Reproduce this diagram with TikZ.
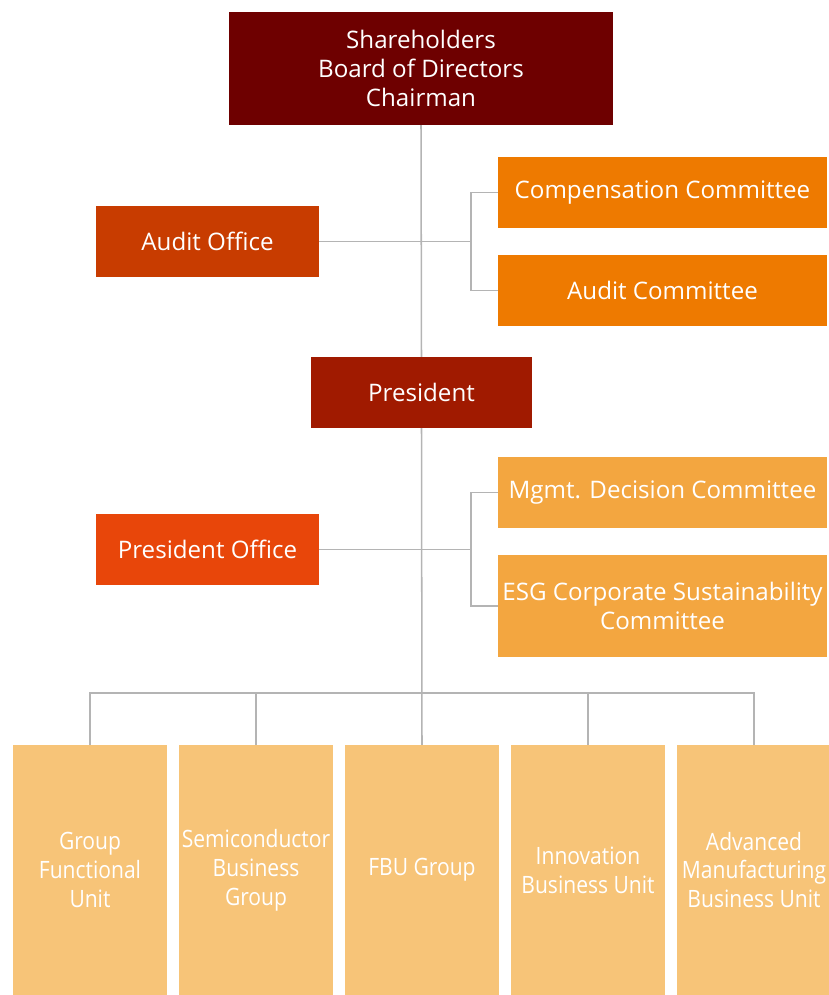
\documentclass[tikz,border=0pt]{standalone}
\usepackage{fontspec}
\setmainfont{Open Sans}
\newfontfamily\condfont[FakeStretch=0.88]{Open Sans}
\begin{document}
\begin{tikzpicture}[x=0.03cm, y=-0.03cm,
    box/.style={rectangle, inner sep=0pt, text=white, align=center,
        font=\fontsize{20.6}{24.6}\selectfont, minimum height=2.13cm},
    sidebox/.style={box, minimum width=6.69cm},
    combox/.style={box, minimum width=9.87cm},
    unitbox/.style={box, minimum width=4.62cm, minimum height=7.5cm,
        fill=unitfill, font=\condfont\fontsize{20.4}{24.6}\selectfont},
    link/.style={draw=linegray, line width=1.3pt}]
    % Define colors
    \definecolor{boardfill}{RGB}{110,0,0}
    \definecolor{presfill}{RGB}{160,26,0}
    \definecolor{auditfill}{RGB}{200,60,0}
    \definecolor{pofficefill}{RGB}{232,70,10}
    \definecolor{comfill}{RGB}{238,122,0}
    \definecolor{mgmtfill}{RGB}{243,166,64}
    \definecolor{unitfill}{RGB}{247,196,120}
    \definecolor{linegray}{RGB}{180,180,180}

    \useasboundingbox (0,0) rectangle (828,995);

    % Draw the boxes
    \node[box, fill=boardfill, minimum width=11.52cm, minimum height=3.39cm] (board) at (421,68.5)
        {Shareholders\\Board of Directors\\Chairman};
    \node[sidebox, fill=auditfill] (auditoff) at (207.5,241.5) {Audit Office};
    \node[combox, fill=comfill] (comp) at (662.5,192.5) {Compensation Committee};
    \node[combox, fill=comfill] (auditcom) at (662.5,290.5) {Audit Committee};
    \node[box, fill=presfill, minimum width=6.63cm] (president) at (421.5,392.5) {President};
    \node[sidebox, fill=pofficefill] (poffice) at (207.5,549.5) {President Office};
    \node[combox, fill=mgmtfill] (mgmt) at (662.5,492.5) {Mgmt. Decision Committee};
    \node[combox, fill=mgmtfill, minimum height=3.06cm] (esg) at (662.5,606)
        {ESG Corporate Sustainability\\Committee};

    \node[unitbox] (gfu) at (90,870) {Group\\Functional\\Unit};
    \node[unitbox] (sbg) at (256,870) {Semiconductor\\Business\\Group};
    \node[unitbox] (fbu) at (422,870) {FBU Group};
    \node[unitbox] (ibu) at (588,870) {Innovation\\Business Unit};
    \node[unitbox] (amb) at (754,870) {Advanced\\Manufacturing\\Business Unit};

    % Draw the connectors
    \coordinate (upperjoin) at (471,241.5);
    \coordinate (lowerjoin) at (471,549.5);
    \coordinate (bus) at (422,693);
    \draw[link] (board.south) -- (president.north);
    \draw[link] (president.south) -- (fbu.north);
    \draw[link] (auditoff.east) -- (upperjoin);
    \draw[link] (comp.west) -| (upperjoin) |- (auditcom.west);
    \draw[link] (poffice.east) -- (lowerjoin);
    \draw[link] (mgmt.west) -| (lowerjoin) |- (esg.west);
    \foreach \u in {gfu,sbg,ibu,amb}
        \draw[link] (bus) -| (\u.north);
\end{tikzpicture}
\end{document}
